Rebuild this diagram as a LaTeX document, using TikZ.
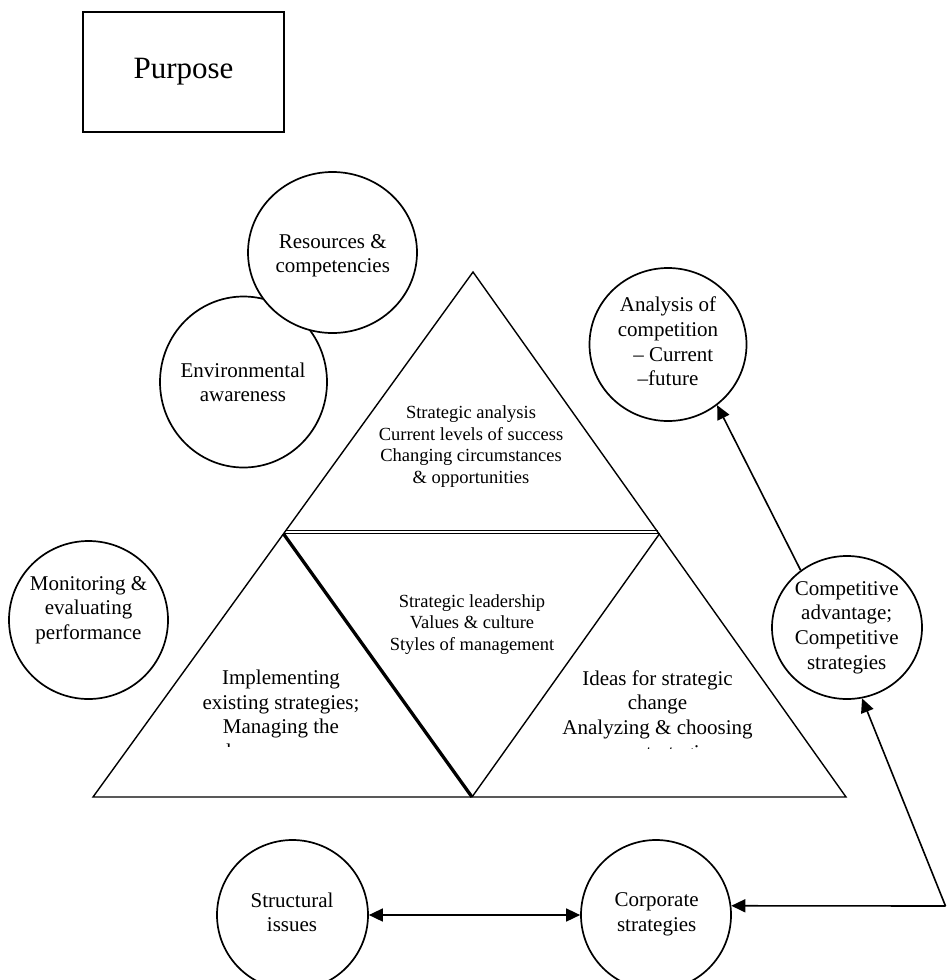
\documentclass[tikz,border=0pt]{standalone}
\usepackage{fontspec}
\setmainfont{Liberation Serif}
\usetikzlibrary{shapes.geometric,arrows.meta}
\begin{document}
\begin{tikzpicture}[x=1pt,y=-1pt,
  oval/.style={draw,ellipse,line width=1.7pt,inner sep=0pt,fill=white},
  bigtxt/.style={align=center,font=\fontsize{21}{24.6}\selectfont,inner sep=0pt},
  smalltxt/.style={align=center,font=\fontsize{18.5}{21.7}\selectfont,inner sep=0pt},
  tri/.style={line width=1.4pt},
  thickedge/.style={line width=3.3pt},
  arr/.style={line width=1.6pt,-{Triangle[length=14pt,width=13pt]}},
  dblarr/.style={line width=1.6pt,{Triangle[length=14pt,width=13pt]}-{Triangle[length=14pt,width=13pt]}},
  pbox/.style={draw,line width=1.6pt,minimum width=201pt,minimum height=120pt,inner sep=0pt,font=\fontsize{31}{36}\selectfont}
]
\useasboundingbox (0,0) rectangle (948,980);

% Purpose box
\node[pbox] (purpose) at (183.5,72) {Purpose};

% triangle
\draw[tri,line join=miter] (93,797) -- (473,272) -- (846,797) -- cycle;
\draw[line width=1.2pt] (285.7,530.8) -- (657.5,530.8);
\draw[line width=1.2pt] (283.5,533.8) -- (659.5,533.8);
\draw[thickedge] (283.5,533.8) -- (472,797);
\draw[tri] (659.5,533.8) -- (472,797);

% circles
\node[oval,minimum width=167pt,minimum height=171pt] (env) at (243.5,382) {};
\node[oval,minimum width=169pt,minimum height=161pt] (res) at (332.5,252.5) {};
\node[oval,minimum width=157pt,minimum height=153pt] (ana) at (668,344.5) {};
\node[oval,minimum width=159pt,minimum height=158pt] (mon) at (88.5,620) {};
\node[oval,minimum width=150pt,minimum height=143pt] (comp) at (847,627.5) {};
\node[oval,minimum width=151pt,minimum height=150pt] (struct) at (292.5,915) {};
\node[oval,minimum width=150pt,minimum height=150pt] (corp) at (656,915) {};

% circle texts
\node[bigtxt] (res-t) at (332.8,255.6) {Resources \&\\competencies};
\node[bigtxt] (env-t) at (243,382.5) {Environmental\\awareness};
\node[bigtxt] (ana-t) at (668,341.5) {Analysis of\\competition\\\hspace*{0.5em}– Current\\–future};
\node[bigtxt] (mon-t) at (88.5,610) {Monitoring \&\\evaluating\\performance};
\node[bigtxt] (comp-t) at (846.7,627.6) {Competitive\\advantage;\\Competitive\\strategies};
\node[bigtxt] (struct-t) at (292,912.3) {Structural\\issues};
\node[bigtxt] (corp-t) at (656.7,914.6) {Corporate\\strategies};

% triangle texts
\node[smalltxt] (sa-t) at (471,446.5) {Strategic analysis\\Current levels of success\\Changing circumstances\\\& opportunities};
\node[smalltxt] (sl-t) at (472,624.4) {Strategic leadership\\Values \& culture\\Styles of management};
\begin{scope}
  \clip (150,640) rectangle (420,746);
  \node[bigtxt] (imp-t) at (281,716.4) {Implementing\\existing strategies;\\Managing the\\change process};
\end{scope}
\begin{scope}
  \clip (520,640) rectangle (800,748);
  \node[bigtxt] (idea-t) at (657.5,717) {Ideas for strategic\\change\\Analyzing \& choosing\\new strategies};
\end{scope}

% connectors
\coordinate (corner) at (945.5,906);
\draw[arr] (comp.129) -- (ana.-51);
\draw[arr] (corner) -- (comp.-78);
\draw[arr] (corner) -- (corp.7);
\draw[dblarr] (struct.east) -- (corp.west);
\end{tikzpicture}
\end{document}
